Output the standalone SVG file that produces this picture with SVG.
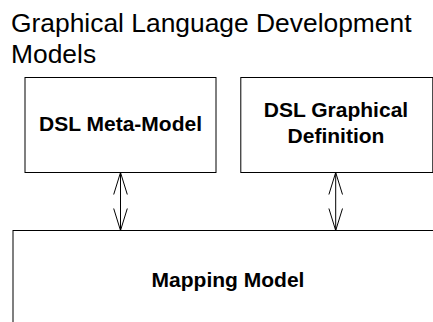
<svg xmlns="http://www.w3.org/2000/svg" width="433" height="322" viewBox="0 0 433 322">
  <style>
    .box { fill: #ffffff; stroke: #000000; stroke-width: 1; }
    .title { font-family: "Liberation Sans", Arial, sans-serif; font-size: 26.4px; fill: #000000; }
    .label { font-family: "Liberation Sans", Arial, sans-serif; font-size: 21px; font-weight: bold; fill: #000000; text-anchor: middle; }
    .link { stroke: #000000; stroke-width: 1; fill: none; }
  </style>
  <defs>
    <!-- open V arrowhead, used at both ends of each link -->
    <marker id="openHead" markerUnits="userSpaceOnUse" viewBox="0 0 24 14" markerWidth="24" markerHeight="14" refX="22" refY="7" orient="auto-start-reverse" overflow="visible">
      <path d="M0,0.2 L22,7 L0,13.8" fill="none" stroke="#000000" stroke-width="1"/>
    </marker>
  </defs>

  <rect width="433" height="322" fill="#ffffff"/>

  <g id="title">
    <text class="title" x="11" y="32">Graphical Language Development</text>
    <text class="title" x="11" y="63">Models</text>
  </g>

  <g id="dsl-meta-model">
    <rect class="box" x="25" y="77.5" width="191" height="95"/>
    <text class="label" x="120.5" y="131">DSL Meta-Model</text>
  </g>

  <g id="dsl-graphical-definition">
    <rect class="box" x="240.8" y="77.5" width="192" height="95"/>
    <text class="label" x="336" y="117">DSL Graphical</text>
    <text class="label" x="336" y="143">Definition</text>
  </g>

  <g id="mapping-model">
    <rect class="box" x="13" y="230.5" width="440" height="110"/>
    <text class="label" x="228" y="287">Mapping Model</text>
  </g>

  <g id="connectors">
    <line class="link" x1="120.5" y1="172.5" x2="120.5" y2="230.5" marker-start="url(#openHead)" marker-end="url(#openHead)"/>
    <line class="link" x1="335.7" y1="172.5" x2="335.7" y2="230.5" marker-start="url(#openHead)" marker-end="url(#openHead)"/>
  </g>
</svg>
